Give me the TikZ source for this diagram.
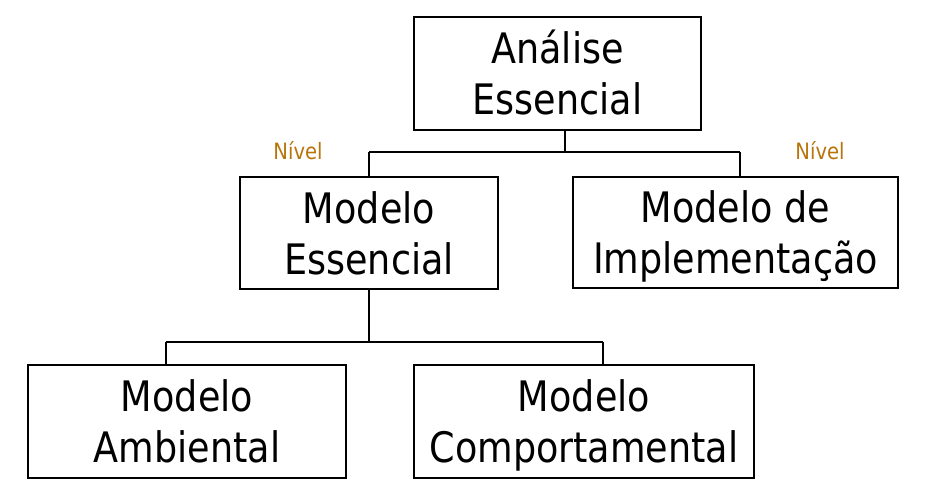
\documentclass[tikz,border=0pt]{standalone}
\usepackage{fontspec}
\setmainfont{DejaVu Sans}[FakeStretch=0.87]
\definecolor{nivelcor}{RGB}{184,116,10}
\newcommand{\altura}{\rule{0pt}{42pt}}
\newcommand{\fundo}{\rule[-11pt]{0pt}{11pt}}
\tikzset{
  caixa/.style={draw,line width=1.1pt,align=center,inner sep=0pt,
    font=\fontsize{42}{51}\selectfont},
  nivel/.style={text=nivelcor,font=\fontsize{22.5}{26}\selectfont},
  liga/.style={line width=1.1pt}
}
\begin{document}
\begin{tikzpicture}[x=1pt,y=-1pt]
			\useasboundingbox (0,0) rectangle (931,501);
			%Khung 1
			\node[caixa,minimum width=287,minimum height=113] (analise) at (557.5,73.5) {\altura Análise\\Essencial\fundo};
			%Khung 2
			\node[caixa,minimum width=258,minimum height=112] (essencial) at (369,233) {\altura Modelo\\Essencial\fundo};
			\node[caixa,minimum width=325,minimum height=111] (implem) at (735.5,232.5) {\altura Modelo de\\Implementação\fundo};
			%Khung 3
			\node[caixa,minimum width=318,minimum height=113] (ambiental) at (187,421.5) {\altura Modelo\\Ambiental\fundo};
			\node[caixa,minimum width=340,minimum height=113] (comport) at (584,421.5) {\altura Modelo\\Comportamental\fundo};
			%Nivel
			\node[nivel] (nivel1) at (298,151) {Nível};
			\node[nivel] (nivel2) at (820,151) {Nível};
			%Lien ket 1
			\coordinate (b1) at (565,152);
			\coordinate (b1e) at (369,152);
			\coordinate (b1d) at (740,152);
			\draw[liga] (analise.south -| b1) -- (b1);
			\draw[liga] (b1e) -- (b1d);
			\draw[liga] (b1e) -- (essencial.north);
			\draw[liga] (b1d) -- (implem.north -| b1d);
			%Lien ket 2
			\coordinate (b2) at (369,342);
			\coordinate (b2e) at (166,342);
			\coordinate (b2d) at (603,342);
			\draw[liga] (essencial.south) -- (b2);
			\draw[liga] (b2e) -- (b2d);
			\draw[liga] (b2e) -- (ambiental.north -| b2e);
			\draw[liga] (b2d) -- (comport.north -| b2d);
		\end{tikzpicture}
\end{document}
